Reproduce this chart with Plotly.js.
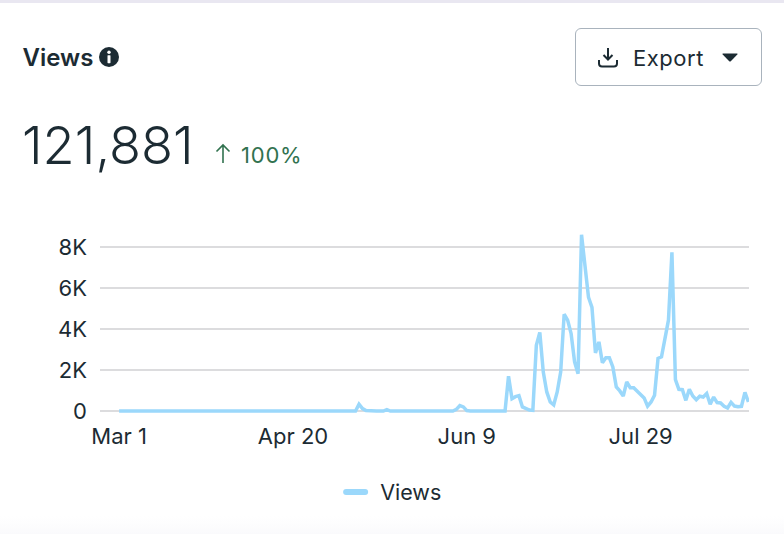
<!DOCTYPE html>
<html><head><meta charset="utf-8">
<script src="https://cdn.plot.ly/plotly-3.0.1.min.js"></script>
<style>
html,body{margin:0;padding:0;background:#fff;width:784px;height:534px;overflow:hidden;font-family:Inter,sans-serif;color:#1c2b33}
#strip{position:absolute;left:0;top:0;width:784px;height:3px;background:#e9e7f1}
#foot{position:absolute;left:0;top:516px;width:784px;height:18px;background:linear-gradient(#ffffff,#fafafc)}
#chart{position:absolute;left:0;top:0;width:784px;height:534px}
.o{position:absolute;white-space:nowrap}
#big{left:22px;top:114px;font-size:52.4px;line-height:62px;font-weight:300}
#pct{left:241px;top:141px;font-size:22px;line-height:28px;color:#31724f;letter-spacing:0.8px}
#btn{left:575px;top:28px;width:185px;height:56px;border:1px solid #a9b3bd;border-radius:6px;box-sizing:content-box}
#exp{left:633px;top:44px;font-size:22px;line-height:28px;font-weight:400;letter-spacing:0.55px}
svg.o{overflow:visible}
</style></head><body>
<div id="foot"></div>
<div id="chart"></div>
<div id="strip"></div>
<svg class="o" style="left:99px;top:47px" width="20" height="20" viewBox="0 0 20 20"><circle cx="10" cy="10" r="10" fill="#1c2b33"/><circle cx="10" cy="5.2" r="1.7" fill="#fff"/><rect x="8.5" y="8.2" width="3" height="8" rx="0.6" fill="#fff"/></svg>
<div class="o" id="big">121,881</div>
<svg class="o" style="left:214px;top:143px" width="18" height="22" viewBox="0 0 18 22"><path d="M9 20V2M2.5 8.5L9 2l6.5 6.5" fill="none" stroke="#31724f" stroke-width="1.6"/></svg>
<div class="o" id="pct">100%</div>
<div class="o" id="btn"></div>
<svg class="o" style="left:597px;top:47px" width="22" height="22" viewBox="0 0 22 22"><path d="M11 1v11M6.5 8l4.5 4.5L15.5 8M2 13v3.5q0 3 3 3h12q3 0 3-3V13" fill="none" stroke="#1c2b33" stroke-width="2"/></svg>
<div class="o" id="exp">Export</div>
<svg class="o" style="left:722px;top:53px" width="16" height="9" viewBox="0 0 16 9"><path d="M1 0.5h14q1 0 .3 .9L9 8q-1 1-2 0L.7 1.4Q0 .5 1 .5z" fill="#1c2b33"/></svg>
<script>
var seriesName = "Views";
var startDate = "2025-03-01";
var quietValues = [
0,0,0,0,0,0,0,0,0,0,0,0,0,0,0,0,0,0,0,0,
0,0,0,0,0,0,0,0,0,0,0,0,0,0,0,0,0,0,0,0,
0,0,0,0,0,0,0,0,0,0,0,0,0,0,0,0,0,0,0,0,
0,0,0,0,0,0,0,0,0,330,120,20,0,0,0,0,0,70,0,0,
0,0,0,0,0,0,0,0,0,0,0,0,0,0,0,0,0,80,270,200,
20,0,0,0,0,0,0,0,0,0,0,0];
var activeValues = [
1700,600,700,750,200,100,50,30,3200,3830,1900,930,440,300,930,1900,4720,4430,3780,2400,
1820,8600,7000,5550,5050,2830,3370,2350,2600,2600,2150,1170,980,730,1420,1140,1140,980,770,640,
240,440,770,2560,2640,3450,4430,7740,1530,1060,1040,520,1060,730,550,720,680,850,330,680,
410,390,230,150,420,240,210,230,910,440];
var yTickVals = [0,2000,4000,6000,8000];
var yTickText = ["0","2K","4K","6K","8K"];
var xTickVals = ["2025-03-01","2025-04-20","2025-06-09","2025-07-29"];
var xTickText = ["Mar 1","Apr 20","Jun 9","Jul 29"];

var values = quietValues.concat(activeValues);
var dates = values.map(function(v,i){
  var d = new Date(startDate+"T00:00:00Z"); d.setUTCDate(d.getUTCDate()+i);
  return d.toISOString().slice(0,10);
});
var ink = "#1c2b33";
Plotly.newPlot("chart",[{
  type:"scatter",mode:"lines",name:seriesName,x:dates,y:values,
  line:{color:"#9bd8fb",width:3.5,shape:"linear"},showlegend:true,hoverinfo:"x+y"
}],{
  width:784,height:534,paper_bgcolor:"rgba(0,0,0,0)",plot_bgcolor:"rgba(0,0,0,0)",
  margin:{l:100,r:35,t:230,b:119,pad:0},
  font:{family:"Inter, sans-serif",color:ink,size:21},
  title:{text:"Views",x:22.5/784,xref:"container",xanchor:"left",y:1-58/534,yref:"container",yanchor:"middle",font:{size:24,weight:600,color:ink,family:"Inter, sans-serif"}},
  xaxis:{type:"date",range:["2025-02-23 12:00","2025-08-29 04:00"],tickmode:"array",tickvals:xTickVals,ticktext:xTickText,showgrid:false,zeroline:false,showline:false,ticks:"",tickfont:{size:22,color:ink},ticklabelstandoff:6,automargin:false},
  yaxis:{range:[-195,8829],tickmode:"array",tickvals:yTickVals,ticktext:yTickText,showgrid:true,gridcolor:"#dcdcde",gridwidth:1.5,zeroline:false,showline:false,ticks:"",tickfont:{size:22,color:ink},ticklabelstandoff:12,automargin:false},
  legend:{orientation:"h",x:0.37,xanchor:"left",y:-0.416,yanchor:"middle",font:{size:21.5,color:ink},itemwidth:30,bgcolor:"rgba(0,0,0,0)"},
  showlegend:true
},{displayModeBar:false,staticPlot:true}).then(function(){
  var p=document.querySelector("#chart .legendlines path");
  if(p){p.setAttribute("d","M6,0h19");p.style.strokeWidth="6px";p.style.strokeLinecap="round";}
});
</script>
</body></html>
